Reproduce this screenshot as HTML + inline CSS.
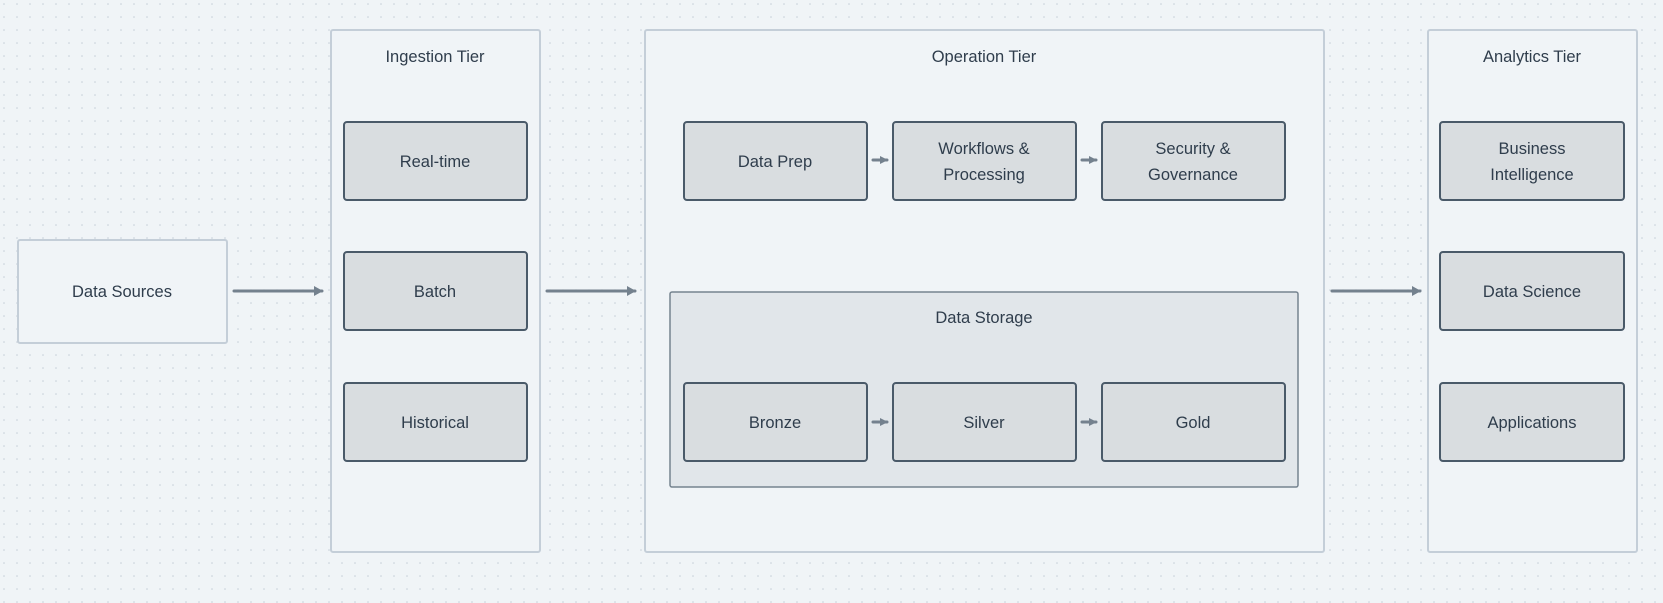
<!DOCTYPE html>
<html><head><meta charset="utf-8"><style>
html,body{margin:0;padding:0;}
body{width:1663px;height:603px;overflow:hidden;background:#f0f4f7;}
svg{display:block;}
text{font-family:"Liberation Sans",sans-serif;font-size:16.5px;fill:#2f3d4c;text-anchor:middle;}
</style></head><body>
<svg width="1663" height="603" viewBox="0 0 1663 603" xmlns="http://www.w3.org/2000/svg">
<defs>
<pattern id="dots" width="13" height="13" patternUnits="userSpaceOnUse">
<circle cx="4" cy="4" r="0.8" fill="#c6cfd8"/>
</pattern>
<marker id="ah" markerWidth="10" markerHeight="10" refX="8" refY="5" orient="auto" markerUnits="userSpaceOnUse">
<path d="M0,0 L9,5 L0,10 Z" fill="#74818e"/>
</marker>
<marker id="ahs" markerWidth="8" markerHeight="8" refX="7" refY="4" orient="auto" markerUnits="userSpaceOnUse">
<path d="M0,0 L8,4 L0,8 Z" fill="#74818e"/>
</marker>
</defs>
<rect width="1663" height="603" fill="url(#dots)"/>

<!-- Data Sources -->
<rect x="18" y="240" width="209" height="103" rx="2" fill="#f0f4f7" stroke="#c4ced8" stroke-width="2"/>
<text x="122" y="297">Data Sources</text>

<!-- Tiers -->
<rect x="331" y="30" width="209" height="522" rx="2" fill="#f0f4f7" stroke="#c4ced8" stroke-width="2"/>
<text x="435" y="62">Ingestion Tier</text>
<rect x="645" y="30" width="679" height="522" rx="2" fill="#f0f4f7" stroke="#c4ced8" stroke-width="2"/>
<text x="984" y="62">Operation Tier</text>
<rect x="1428" y="30" width="209" height="522" rx="2" fill="#f0f4f7" stroke="#c4ced8" stroke-width="2"/>
<text x="1532" y="62">Analytics Tier</text>

<!-- Data Storage -->
<rect x="670" y="292" width="628" height="195" rx="2" fill="#e1e6ea" stroke="#75838f" stroke-width="1.5"/>
<text x="984" y="323">Data Storage</text>

<g fill="#d9dde0" stroke="#4a5a69" stroke-width="2">
<rect x="344" y="122" width="183" height="78" rx="3"/>
<rect x="344" y="252" width="183" height="78" rx="3"/>
<rect x="344" y="383" width="183" height="78" rx="3"/>
<rect x="684" y="122" width="183" height="78" rx="3"/>
<rect x="893" y="122" width="183" height="78" rx="3"/>
<rect x="1102" y="122" width="183" height="78" rx="3"/>
<rect x="684" y="383" width="183" height="78" rx="3"/>
<rect x="893" y="383" width="183" height="78" rx="3"/>
<rect x="1102" y="383" width="183" height="78" rx="3"/>
<rect x="1440" y="122" width="184" height="78" rx="3"/>
<rect x="1440" y="252" width="184" height="78" rx="3"/>
<rect x="1440" y="383" width="184" height="78" rx="3"/>
</g>

<text x="435" y="167">Real-time</text>
<text x="435" y="297">Batch</text>
<text x="435" y="428">Historical</text>
<text x="775" y="167">Data Prep</text>
<text x="984" y="154">Workflows &amp;</text>
<text x="984" y="180">Processing</text>
<text x="1193" y="154">Security &amp;</text>
<text x="1193" y="180">Governance</text>
<text x="775" y="428">Bronze</text>
<text x="984" y="428">Silver</text>
<text x="1193" y="428">Gold</text>
<text x="1532" y="154">Business</text>
<text x="1532" y="180">Intelligence</text>
<text x="1532" y="297">Data Science</text>
<text x="1532" y="428">Applications</text>

<g stroke="#74818e" stroke-width="3" stroke-linecap="round" fill="none">
<line x1="234" y1="291" x2="322" y2="291" marker-end="url(#ah)"/>
<line x1="547" y1="291" x2="635" y2="291" marker-end="url(#ah)"/>
<line x1="1332" y1="291" x2="1420" y2="291" marker-end="url(#ah)"/>
<line x1="873" y1="160" x2="887" y2="160" marker-end="url(#ahs)"/>
<line x1="1082" y1="160" x2="1096" y2="160" marker-end="url(#ahs)"/>
<line x1="873" y1="422" x2="887" y2="422" marker-end="url(#ahs)"/>
<line x1="1082" y1="422" x2="1096" y2="422" marker-end="url(#ahs)"/>
</g>
</svg>
</body></html>
